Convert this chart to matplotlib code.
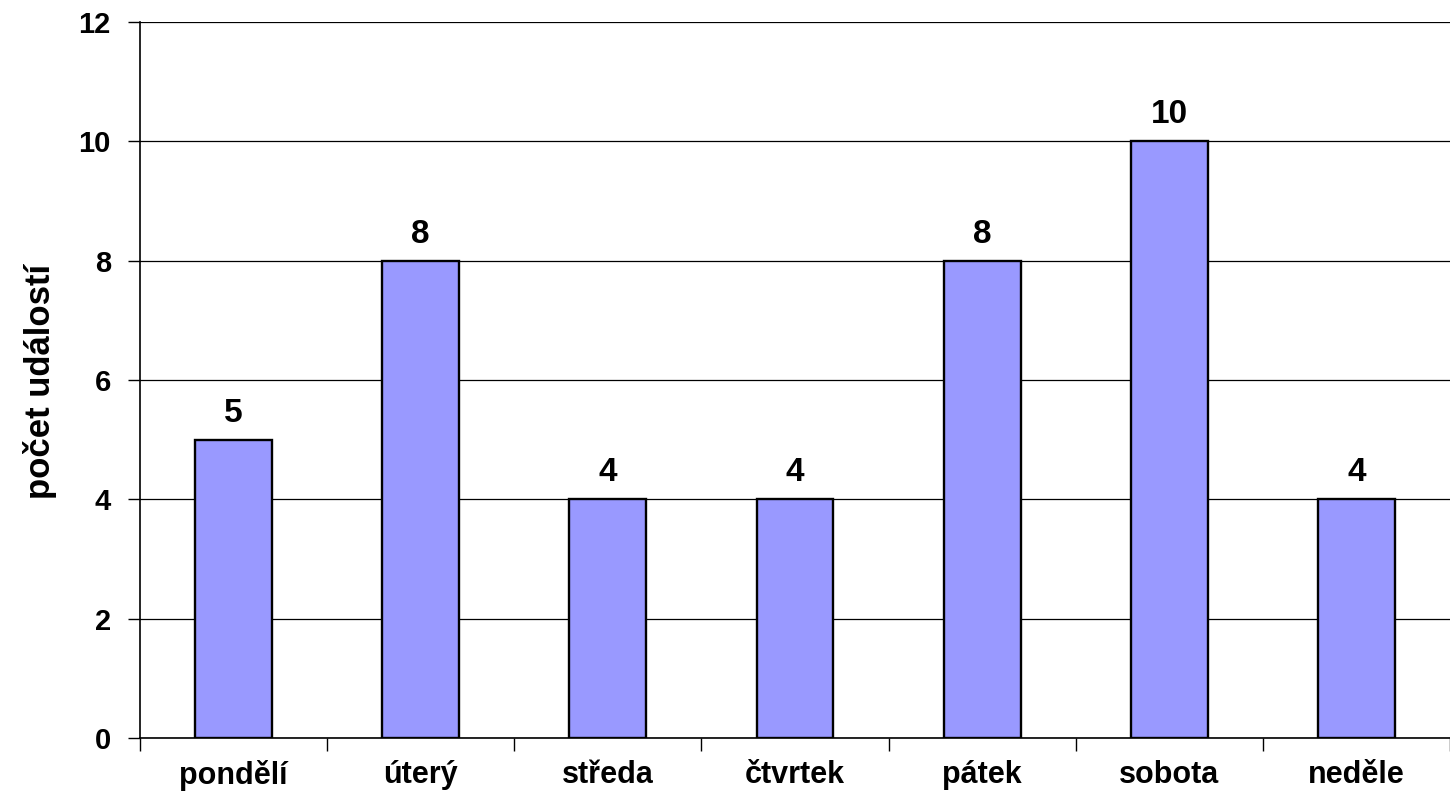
import numpy as np
import matplotlib.pyplot as plt

days = ['pondělí', 'úterý', 'středa', 'čtvrtek', 'pátek', 'sobota', 'neděle']
counts = [5, 8, 4, 4, 8, 10, 4]
y_ticks = [0, 2, 4, 6, 8, 10, 12]

plt.rcParams['font.family'] = ['Liberation Sans', 'DejaVu Sans']
plt.rcParams['font.weight'] = 'bold'

fig = plt.figure(figsize=(14.5, 7.94), dpi=100)
ax = fig.add_axes([140/1450, 1 - 738/794, 1310/1450, 716/794])

x = np.arange(len(days))
ax.bar(x, counts, width=0.41, color='#9999FF', edgecolor='black', linewidth=1.7, zorder=3)

# value labels above the bars
for xi, c in zip(x, counts):
    ax.text(xi, c + 0.3, str(c), ha='center', va='baseline', fontsize=24, fontweight='bold')

ax.set_xlim(-0.5, len(days) - 0.5)
ax.set_ylim(0, 12)
ax.set_yticks(y_ticks)
ax.set_yticklabels([str(v) for v in y_ticks], fontsize=21, fontweight='bold')
ax.yaxis.grid(True, color='black', linewidth=0.9, zorder=0)

# category labels in the middle, tick marks on the boundaries
ax.set_xticks(x)
ax.set_xticklabels(days, fontsize=22, fontweight='bold')
ax.tick_params(axis='x', length=0, pad=16)
ax.set_xticks(np.arange(-0.5, len(days), 1.0), minor=True)
ax.tick_params(axis='x', which='minor', length=9, width=1, direction='out')
ax.tick_params(axis='y', length=9, width=1, pad=12)

for s in ['top', 'right']:
    ax.spines[s].set_visible(False)
ax.spines['left'].set_linewidth(1.2)
ax.spines['bottom'].set_linewidth(1.2)

fig.text(40/1450, 1 - 381/794, 'počet událostí', rotation=90, ha='center', va='center',
         fontsize=25, fontweight='bold')

fig.savefig('out.png', dpi=100)
